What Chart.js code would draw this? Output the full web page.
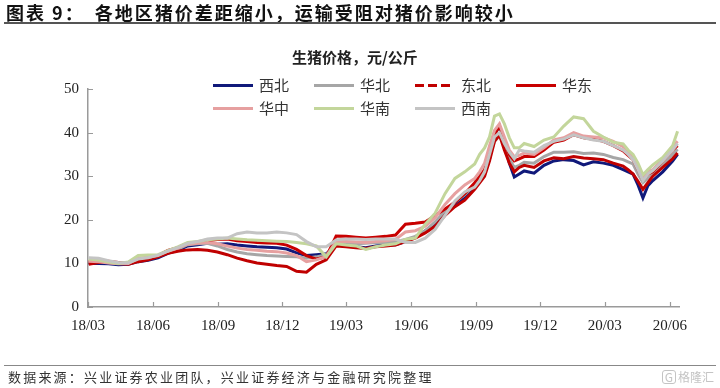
<!DOCTYPE html>
<html><head><meta charset="utf-8">
<script src="https://cdn.jsdelivr.net/npm/chart.js@4.4.1/dist/chart.umd.min.js"></script>
<style>
html,body{margin:0;padding:0;background:#fff;}
#wrap{position:relative;width:720px;height:388px;overflow:hidden;font-family:"Noto Sans CJK SC",sans-serif;color:#222;}
#c{position:absolute;left:0;top:0;}
.title{position:absolute;left:6px;top:0px;font-size:18px;font-weight:bold;color:#111;white-space:nowrap;letter-spacing:2px;line-height:24px;}
.title .pre{margin-right:10px;}
.rule1{position:absolute;left:4px;top:22px;width:712px;height:2px;background:#555;}
.sub{position:absolute;left:292px;top:46px;font-size:15px;font-weight:bold;color:#222;white-space:nowrap;line-height:22px;}
.lg{position:absolute;font-size:15px;color:#333;white-space:nowrap;line-height:20px;}
.lg i{position:absolute;left:0;top:9px;width:40px;height:3px;}
.lg span{position:absolute;left:46px;top:0;}
.rule2{position:absolute;left:4px;top:365px;width:712px;height:1px;background:#888;}
.src{position:absolute;left:8px;top:367px;font-size:13px;color:#333;white-space:nowrap;letter-spacing:2.2px;line-height:20px;}
.wm{position:absolute;right:6px;top:369px;font-size:12px;color:#c4c4c4;white-space:nowrap;line-height:16px;}
.wm b{display:inline-block;border:1px solid #c4c4c4;border-radius:3px;padding:0 2px;margin-right:2px;font-weight:normal;line-height:12px;}
</style></head>
<body><div id="wrap">
<canvas id="c" width="720" height="388"></canvas>
<div class="title"><span class="pre">图表 9：</span>各地区猪价差距缩小，运输受阻对猪价影响较小</div>
<div class="rule1"></div>
<div class="sub">生猪价格，元/公斤</div>
<div id="legend"></div>
<div class="rule2"></div>
<div class="src">数据来源：兴业证券农业团队，兴业证券经济与金融研究院整理</div>
<div class="wm"><b>G</b>格隆汇</div>
</div>
<script>
const dates = ['2018-03-02','2018-03-16','2018-03-30','2018-04-13','2018-04-27','2018-05-11','2018-05-25','2018-06-08','2018-06-22','2018-07-06','2018-07-20','2018-08-03','2018-08-17','2018-08-31','2018-09-14','2018-09-28','2018-10-12','2018-10-26','2018-11-09','2018-11-23','2018-12-07','2018-12-21','2019-01-04','2019-01-18','2019-02-01','2019-02-15','2019-03-01','2019-03-15','2019-03-29','2019-04-12','2019-04-26','2019-05-10','2019-05-24','2019-06-07','2019-06-21','2019-07-05','2019-07-19','2019-08-02','2019-08-16','2019-08-30',
'2019-09-06','2019-09-13','2019-09-20','2019-09-27','2019-10-04','2019-10-11','2019-10-18','2019-10-25','2019-11-01','2019-11-08',
'2019-11-22','2019-12-06','2019-12-20','2020-01-03','2020-01-17','2020-01-31','2020-02-14','2020-02-28','2020-03-13','2020-03-27',
'2020-04-03','2020-04-10','2020-04-17','2020-04-24','2020-05-01','2020-05-08','2020-05-22','2020-06-05','2020-06-12'];

const xibei   = [10.0,10.0,9.9,9.7,9.8,10.4,10.7,11.3,12.3,13.0,14.0,14.3,14.6,14.4,14.5,14.2,14.0,13.8,13.7,13.6,13.3,12.4,11.8,12.0,12.2,14.2,14.0,13.8,13.6,14.0,14.2,14.3,15.0,16.0,17.5,18.8,21.5,23.5,25.0,27.5,29.0,30.5,34.0,39.5,41.5,37.5,33.0,29.8,30.5,31.2,30.7,32.5,33.5,33.8,33.6,32.6,33.3,33.0,32.5,31.5,31.0,30.5,28.0,25.0,27.8,29.0,31.0,33.5,35.0];
const huabei  = [10.5,10.6,10.2,10.0,10.0,10.8,11.0,11.6,12.6,13.3,14.3,14.5,14.6,14.0,13.2,12.6,12.2,12.0,11.8,11.7,11.6,11.5,11.2,11.5,12.0,14.2,14.4,14.5,14.6,14.8,14.8,15.0,15.5,16.2,17.5,19.5,22.0,24.0,25.8,28.0,29.5,31.0,34.5,38.0,39.2,37.0,34.0,32.0,32.5,33.2,33.0,34.5,35.5,35.5,35.6,35.2,35.3,35.0,34.3,33.8,33.3,32.8,30.5,28.5,29.5,30.5,32.5,35.0,36.2];
const dongbei = [9.8,10.2,10.3,10.0,9.8,10.4,10.8,11.5,12.3,12.8,13.1,13.2,13.0,12.6,12.0,11.2,10.6,10.1,9.8,9.5,9.3,8.2,8.0,9.8,10.8,14.0,13.8,13.6,13.4,13.8,14.0,14.2,15.0,15.8,17.0,18.5,21.0,23.0,24.5,27.0,28.5,30.0,33.5,38.0,39.5,36.0,33.0,31.0,32.0,32.5,32.0,33.5,34.2,34.0,34.5,34.2,34.0,33.8,33.0,32.3,31.5,30.5,28.8,27.0,28.5,30.0,32.0,34.0,35.3];
const huadong = [10.3,10.6,10.5,10.2,10.0,10.8,11.3,11.8,13.0,13.6,14.6,14.8,15.2,15.5,15.6,15.2,15.0,14.8,14.7,14.6,14.2,13.2,11.8,11.0,11.5,16.3,16.2,16.0,15.8,16.0,16.2,16.5,19.0,19.2,19.5,21.0,22.5,24.0,26.0,28.5,30.0,31.5,35.5,39.5,41.5,38.0,35.0,33.5,34.0,34.5,34.5,36.0,37.8,38.3,39.5,38.8,38.5,38.0,37.0,35.8,34.8,33.8,31.5,29.2,30.5,31.0,33.5,36.0,37.0];
const huazhong= [10.5,10.4,10.1,9.9,10.0,11.2,11.4,11.8,12.8,13.5,14.4,14.6,14.8,14.5,14.0,13.5,13.2,13.0,12.8,12.7,12.4,11.8,10.4,10.8,11.6,15.0,15.0,14.9,14.8,15.0,15.2,15.5,17.2,17.5,18.5,20.5,23.5,26.0,28.0,29.5,31.0,33.0,37.0,40.5,42.0,39.0,36.0,34.5,34.8,35.3,35.0,36.5,38.3,38.8,40.0,39.2,39.0,38.8,38.0,36.8,35.8,34.5,32.0,29.8,31.0,31.5,34.0,36.8,38.0];
const huanan  = [11.0,10.8,10.3,10.0,10.3,11.8,11.9,12.0,12.9,13.8,14.8,15.0,15.4,15.6,15.8,15.6,15.4,15.3,15.2,15.1,15.0,14.8,14.5,14.0,11.5,14.5,14.2,14.0,13.2,13.8,14.2,14.5,15.5,15.8,19.0,21.5,26.0,29.5,31.0,32.8,35.0,36.5,39.0,43.8,44.3,42.0,38.8,36.5,36.5,37.5,36.8,38.3,39.0,41.5,43.6,43.2,40.3,39.0,37.8,37.4,36.0,35.0,33.0,30.3,31.5,32.6,34.3,37.0,40.3];
const xinan   = [11.3,11.2,10.6,10.2,10.1,11.0,11.3,11.9,12.8,13.6,14.6,15.0,15.6,15.8,15.8,16.8,17.2,17.0,17.0,17.2,17.0,16.6,15.0,13.8,13.8,15.4,15.6,15.6,15.5,15.6,15.6,15.6,14.8,14.8,15.8,17.8,21.0,24.3,26.4,27.5,29.0,31.0,35.0,39.0,40.0,37.5,35.5,34.0,36.0,35.8,35.5,37.0,38.0,38.5,39.5,38.8,38.3,38.0,37.0,36.0,35.0,33.8,31.5,29.0,30.5,31.3,33.5,36.0,37.5];

const seriesNames = ['西北','华北','东北','华东','华中','华南','西南'];
const seriesData = [xibei, huabei, dongbei, huadong, huazhong, huanan, xinan];
const seriesColors = ['#10197A','#A6A6A6','#C00000','#C80000','#E6A0A0','#C3D69B','#C4C4C4'];
// legend sample style (东北 is dashed in the legend; at weekly density the plotted dashes merge into a solid stroke)
const legendDashed = [false,false,true,false,false,false,false];

const tickLabels = ['18/03','18/06','18/09','18/12','19/03','19/06','19/09','19/12','20/03','20/06'];
const tickDates  = ['2018-03-01','2018-06-01','2018-09-01','2018-12-01','2019-03-01','2019-06-01','2019-09-01','2019-12-01','2020-03-01','2020-06-01'];
const yTicks = [0,10,20,30,40,50];

const base = Date.parse('2018-03-01T00:00:00Z');
const dayOf = d => (Date.parse(d + 'T00:00:00Z') - base) / 86400000;

// legend (HTML)
const legendPos = [[213,75],[314,75],[415,75],[516,75],[213,98],[314,98],[415,98]];
const lg = document.getElementById('legend');
seriesNames.forEach((n,i)=>{
  const d = document.createElement('div');
  d.className = 'lg';
  d.style.left = legendPos[i][0]+'px';
  d.style.top = legendPos[i][1]+'px';
  d.style.width = '90px'; d.style.height='20px';
  const ln = document.createElement('i');
  if (legendDashed[i]) {
    ln.style.width = '35px';
    ln.style.background = 'repeating-linear-gradient(to right,' + seriesColors[i] + ' 0 9px, transparent 9px 13px)';
  } else {
    ln.style.background = seriesColors[i];
  }
  const t = document.createElement('span');
  t.textContent = n;
  d.appendChild(ln); d.appendChild(t);
  lg.appendChild(d);
});

const innerTicks = {
  id:'innerTicks',
  beforeDatasetsDraw(chart){
    const {ctx, chartArea:a, scales:{x,y}} = chart;
    ctx.save();
    ctx.strokeStyle = '#9A9A9A';
    ctx.lineWidth = 1.2;
    ctx.beginPath();
    x.ticks.forEach((t,i)=>{ const px = Math.round(x.getPixelForTick(i))+0.5; ctx.moveTo(px,a.bottom); ctx.lineTo(px,a.bottom-5); });
    y.ticks.forEach((t,i)=>{ const py = Math.round(y.getPixelForTick(i))+0.5; ctx.moveTo(a.left,py); ctx.lineTo(a.left+5,py); });
    ctx.stroke();
    ctx.restore();
  }
};

new Chart(document.getElementById('c'), {
  type:'line',
  data:{
    datasets: seriesNames.map((n,i)=>({
      label:n,
      data: dates.map((d,j)=>({x:dayOf(d), y:seriesData[i][j]})),
      borderColor: seriesColors[i],
      borderWidth: 3,
      pointRadius: 0,
      fill:false,
      tension:0,
      order: seriesNames.length - i
    }))
  },
  options:{
    responsive:false,
    animation:false,
    devicePixelRatio:1,
    layout:{padding:{left:0,top:89,right:41,bottom:51}},
    plugins:{legend:{display:false},tooltip:{enabled:false}},
    scales:{
      x:{
        type:'linear',
        min:0,
        max:dayOf('2020-06-14'),
        afterFit(s){ s.height = 30; },
        afterBuildTicks(s){ s.ticks = tickDates.map(d=>({value:dayOf(d)})); },
        grid:{display:true,drawOnChartArea:false,drawTicks:false},
        border:{display:true,color:'#9A9A9A',width:1.5},
        ticks:{autoSkip:false,maxRotation:0,padding:10,color:'#222',
          font:{family:'"Liberation Serif", serif',size:15},
          callback:(v,i)=>tickLabels[i]}
      },
      y:{
        min:0,max:50,
        afterFit(s){ s.width = 88; },
        afterBuildTicks(s){ s.ticks = yTicks.map(v=>({value:v})); },
        grid:{display:true,drawOnChartArea:false,drawTicks:false},
        border:{display:true,color:'#9A9A9A',width:1.5},
        ticks:{padding:9,color:'#222',font:{family:'"Liberation Serif", serif',size:15}}
      }
    }
  },
  plugins:[innerTicks]
});
</script>
</body></html>
